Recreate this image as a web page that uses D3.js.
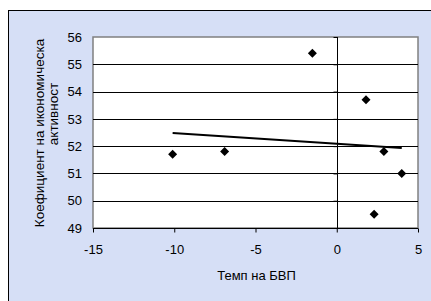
<!DOCTYPE html>
<html>
<head>
<meta charset="utf-8">
<script src="https://cdn.jsdelivr.net/npm/d3@7"></script>
<style>
  body { margin: 0; background: #fff; }
  svg { display: block; font-family: "Liberation Sans", Arial, sans-serif; }
</style>
</head>
<body>
<div id="chart"></div>
<script>
// Темп на БВП (x) и коефициент на икономическа активност (y)
const growth = [-10.1, -6.9, -1.5, 1.8, 2.9, 4.0, 2.3];
const activity = [51.7, 51.8, 55.4, 53.7, 51.8, 51.0, 49.5];
const xTicks = [-15, -10, -5, 0, 5];
const yTicks = [49, 50, 51, 52, 53, 54, 55, 56];
const xTitle = "Темп на БВП";
const yTitle = ["Коефициент на икономическа", "активност"];

const W = 431, H = 301;
const plot = { left: 93, right: 418, top: 37, bottom: 228 };

const svg = d3.select("#chart").append("svg")
    .attr("width", W)
    .attr("height", H);

// chart area background
svg.append("rect")
    .attr("x", 8.5).attr("y", 10.5)
    .attr("width", W).attr("height", H)
    .style("fill", "rgb(214,223,246)")
    .style("stroke", "#000");

const x = d3.scaleLinear().domain([-15, 5]).range([plot.left, plot.right]);
const y = d3.scaleLinear().domain([49, 56]).range([plot.bottom, plot.top]);

// plot area
svg.append("rect")
    .attr("x", plot.left).attr("y", plot.top)
    .attr("width", plot.right - plot.left)
    .attr("height", plot.bottom - plot.top)
    .attr("fill", "#fff")
    .attr("stroke", "#808080")
    .attr("stroke-width", 1.5);

// horizontal gridlines
svg.append("g")
    .selectAll("line")
    .data(yTicks.slice(1, -1))
    .enter().append("line")
    .attr("x1", plot.left).attr("x2", plot.right)
    .attr("y1", d => Math.round(y(d)) + 0.5)
    .attr("y2", d => Math.round(y(d)) + 0.5)
    .attr("stroke", "#000");

// y tick labels on the left of the plot
const yLab = svg.append("g")
    .attr("transform", `translate(${plot.left},0)`)
    .call(d3.axisLeft(y).tickValues(yTicks).tickSize(0).tickPadding(11).tickFormat(d3.format("d")));
yLab.select(".domain").remove();
yLab.selectAll("text").attr("font-size", 13).attr("font-family", null).attr("fill", "#000");

// value axis crossing at x = 0
const yAxis = svg.append("g")
    .attr("transform", `translate(${Math.round(x(0)) + 0.5},0)`)
    .call(d3.axisLeft(y).tickValues(yTicks).tickSize(4).tickFormat(""));
yAxis.select(".domain").attr("d", `M0,${plot.top}V${plot.bottom}`);

// x axis
const xAxis = svg.append("g")
    .attr("transform", `translate(0,${plot.bottom + 0.5})`)
    .call(d3.axisBottom(x).tickValues(xTicks).tickSize(4).tickPadding(12)
        .tickFormat(d => d < 0 ? "-" + Math.abs(d) : d));
xAxis.select(".domain").attr("d", `M${plot.left},0H${plot.right}`);
xAxis.selectAll("text").attr("font-size", 13).attr("font-family", null).attr("fill", "#000");

// linear trendline (least squares over the points)
const mx = d3.mean(growth), my = d3.mean(activity);
const slope = d3.sum(growth, (g, i) => (g - mx) * (activity[i] - my)) /
    d3.sum(growth, g => (g - mx) * (g - mx));
const trend = d3.extent(growth).map(g => [g, my + slope * (g - mx)]);
svg.append("path")
    .attr("d", d3.line().x(d => x(d[0])).y(d => y(d[1]))(trend))
    .attr("fill", "none")
    .attr("stroke", "#000")
    .attr("stroke-width", 2);

// markers
svg.append("g")
    .selectAll("path")
    .data(growth.map((g, i) => [g, activity[i]]))
    .enter().append("path")
    .attr("transform", d => `translate(${x(d[0])},${y(d[1])})`)
    .attr("d", "M0,-4.5L4.5,0L0,4.5L-4.5,0Z")
    .attr("fill", "#000");

// titles
svg.append("text")
    .attr("x", (plot.left + plot.right) / 2 + 1)
    .attr("y", 280)
    .attr("text-anchor", "middle")
    .attr("font-size", 13)
    .text(xTitle);

// y title: two wrapped lines, second one sits a bit higher
const yTitlePos = [[44, 133], [58, 114]];
svg.append("g")
    .selectAll("text")
    .data(yTitle)
    .enter().append("text")
    .attr("transform", (d, i) => `translate(${yTitlePos[i][0]},${yTitlePos[i][1]}) rotate(-90)`)
    .attr("text-anchor", "middle")
    .attr("font-size", 13.5)
    .text(d => d);
</script>
</body>
</html>
